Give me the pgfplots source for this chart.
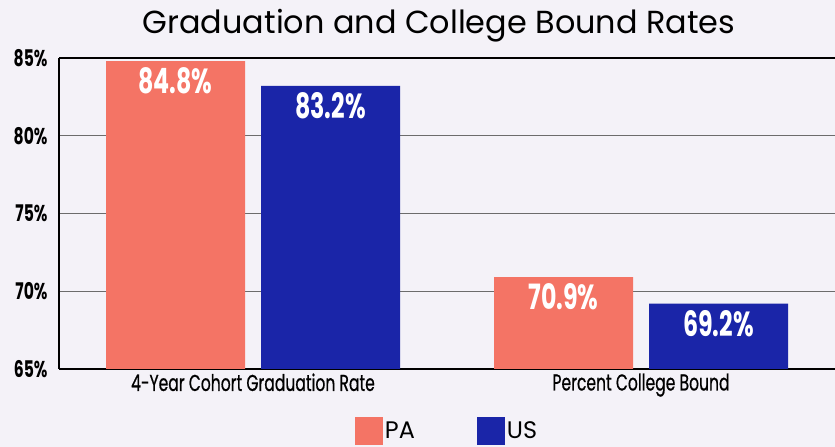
\documentclass[border=0pt]{standalone}
\usepackage{fontspec}
\usepackage{pgfplots}
\pgfplotsset{compat=1.18}
\setmainfont{Poppins}
\newfontfamily\condfont[FakeStretch=0.68]{Poppins}
\newfontfamily\condmed[FakeStretch=0.68,FakeBold=0.6]{Poppins}
\definecolor{bg}{HTML}{F4F2F8}
\definecolor{pa}{HTML}{F47465}
\definecolor{us}{HTML}{1A25A8}
\begin{document}
\begin{tikzpicture}[x=1bp,y=1bp]
\fill[bg] (0,0) rectangle (835,447);
\useasboundingbox (0,0) rectangle (835,447);
\node[font=\fontsize{32}{36}\selectfont] at (439,421) {Graduation and College Bound Rates};
\begin{axis}[
  at={(59bp,78bp)}, anchor=south west,
  scale only axis, width=776bp, height=311bp,
  xmin=-0.5, xmax=1.5, ymin=65, ymax=85,
  axis x line*=bottom, axis y line*=left,
  axis line style={black, line width=1.2pt},
  ybar, bar width=139bp,
  /pgf/number format/assume math mode=true,
  xtick={0,1}, xticklabels={4-Year Cohort Graduation Rate, Percent College Bound},
  xticklabel style={font=\condmed\fontsize{23}{26}\selectfont, yshift=-1bp},
  ytick={65,70,75,80,85}, yticklabels={65\%,70\%,75\%,80\%,85\%},
  yticklabel style={font=\condfont\fontsize{23}{26}\selectfont\bfseries, xshift=-8bp},
  major tick length=0pt,
  ymajorgrids, grid style={gray!85!black, line width=0.9pt},
  extra y ticks={85}, extra y tick labels={},
  extra y tick style={grid style={black, line width=1.2pt}},
  nodes near coords={\pgfmathprintnumber[fixed,precision=1,fixed zerofill]{\pgfplotspointmeta}\%},
  nodes near coords style={font=\condfont\fontsize{35}{38}\selectfont\bfseries, text=white, anchor=north, yshift=-3bp},
  legend style={at={(0.5,-0.2)}, anchor=center, draw=none, fill=none,
    legend columns=2, font=\fontsize{24}{28}\selectfont,
    /tikz/every even column/.append style={column sep=60bp}},
  legend image code/.code={\fill[#1] (0bp,-14bp) rectangle (28bp,14bp);},
]
\addplot[fill=pa, draw=none, bar shift=-77.5bp] coordinates {(0,84.8) (1,70.9)};
\addplot[fill=us, draw=none, bar shift=77.5bp] coordinates {(0,83.2) (1,69.2)};
\legend{PA,US}
\end{axis}
\end{tikzpicture}
\end{document}
